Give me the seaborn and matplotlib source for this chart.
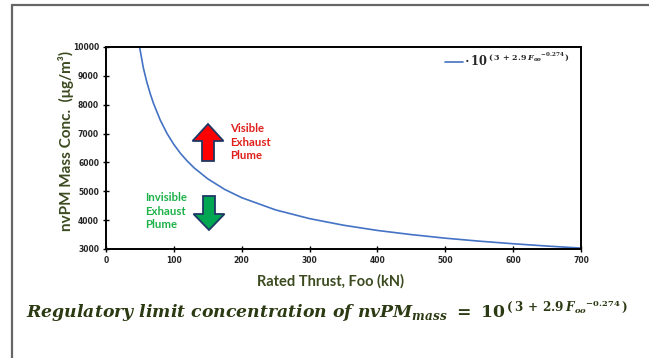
import matplotlib
matplotlib.use("Agg")
import matplotlib.pyplot as plt
import seaborn as sns
import pandas as pd
from matplotlib.patches import Polygon
from matplotlib.lines import Line2D

# ---- data ----
thrust_kn = [49.5, 55, 60, 65, 70, 80, 90, 100, 110, 120, 130, 150, 175, 200,
             250, 300, 350, 400, 450, 500, 550, 600, 650, 700]
conc_ugm3 = [10000, 9279, 8800, 8395, 8045, 7464, 7000, 6622, 6306, 6041, 5809,
             5431, 5064, 4778, 4354, 4053, 3824, 3643, 3499, 3375, 3272, 3182,
             3102, 3031]
x_ticks = [0, 100, 200, 300, 400, 500, 600, 700]
y_ticks = [3000, 4000, 5000, 6000, 7000, 8000, 9000, 10000]
series_label = r"$\cdot\,\mathbf{10}^{\,(\,3\,+\,2.9\,\mathit{F_{oo}}{}^{-0.274}\,)}$"
x_title = "Rated Thrust, Foo (kN)"
y_title = "nvPM Mass Conc.  (μg/m³)"
visible_text = "Visible\nExhaust\nPlume"
invisible_text = "Invisible\nExhaust\nPlume"
bottom_text = (r"$\mathit{Regulatory\ limit\ concentration\ of\ nvPM_{mass}}\ =\ "
               r"\mathbf{10}^{\,(\,3\,+\,2.9\,\mathit{F_{oo}}{}^{-0.274}\,)}$")

sns.set_theme(style="white")
plt.rcParams["font.family"] = ["Lato", "DejaVu Sans"]
plt.rcParams["mathtext.fontset"] = "custom"
plt.rcParams["mathtext.rm"] = "DejaVu Serif:bold"
plt.rcParams["mathtext.it"] = "DejaVu Serif:bold:italic"
plt.rcParams["mathtext.bf"] = "DejaVu Serif:bold"

W, H = 649, 358
fig = plt.figure(figsize=(W / 100, H / 100), dpi=100)
fig.patch.set_facecolor("white")
fig.patch.set_edgecolor("white")

def fx(px):
    return px / W

def fy(py):
    return 1 - py / H

ax_l, ax_r, ax_t, ax_b = 106, 581, 47, 249
ax = fig.add_axes([fx(ax_l), fy(ax_b), (ax_r - ax_l) / W, (ax_b - ax_t) / H])

df = pd.DataFrame({"thrust": thrust_kn, "conc": conc_ugm3, "series": series_label})
sns.lineplot(data=df, x="thrust", y="conc", hue="series", palette=["#4472C4"],
             linewidth=1.2, ax=ax, legend=True)

ax.set_xlim(0, 700)
ax.set_ylim(3000, 10000)
ax.set_xticks(x_ticks)
ax.set_yticks(y_ticks)
tick_font = dict(family=["Liberation Sans Narrow", "DejaVu Sans"], weight="bold", size=5.5)
ax.set_xticklabels([str(v) for v in x_ticks], **tick_font)
ax.set_yticklabels([str(v) for v in y_ticks], **tick_font)
ax.tick_params(axis="both", direction="inout", length=4, width=1, color="black",
               pad=3, bottom=True, left=True)
for s in ax.spines.values():
    s.set_color("black")
    s.set_linewidth(1.4)

label_color = "#3b4a1f"
ax.set_xlabel(x_title, fontsize=10.5, fontweight="bold", color=label_color)
ax.set_ylabel(y_title, fontsize=11, fontweight="bold", color=label_color)
ax.xaxis.set_label_coords(0.472, -0.158)
ax.yaxis.set_label_coords(-0.084, 0.535)
ax.xaxis.label.set_va("center")
ax.yaxis.label.set_va("center")

leg = ax.legend(loc="upper right", frameon=False, fontsize=8.3, handlelength=1.5,
                handletextpad=0.1, borderaxespad=0.05, borderpad=0.3,
                bbox_to_anchor=(0.985, 1.0), title=None)

# arrows (figure pixel positions)
def arrow_poly(cx, top, bottom, head_w, shaft_w, head_h, up=True):
    if up:
        pts = [(cx, top), (cx + head_w / 2, top + head_h), (cx + shaft_w / 2, top + head_h),
               (cx + shaft_w / 2, bottom), (cx - shaft_w / 2, bottom),
               (cx - shaft_w / 2, top + head_h), (cx - head_w / 2, top + head_h)]
    else:
        pts = [(cx, bottom), (cx + head_w / 2, bottom - head_h), (cx + shaft_w / 2, bottom - head_h),
               (cx + shaft_w / 2, top), (cx - shaft_w / 2, top),
               (cx - shaft_w / 2, bottom - head_h), (cx - head_w / 2, bottom - head_h)]
    return [(fx(x), fy(y)) for x, y in pts]

fig.patches.append(Polygon(arrow_poly(208, 124, 161, 31, 12, 17, up=True),
                           closed=True, facecolor="#ff0000", edgecolor="#1f3864",
                           linewidth=1.3, transform=fig.transFigure))
fig.patches.append(Polygon(arrow_poly(209, 196, 230, 31, 12, 16, up=False),
                           closed=True, facecolor="#00a651", edgecolor="#1f3864",
                           linewidth=1.3, transform=fig.transFigure))

fig.text(fx(230), fy(123), visible_text, color="#e0201c", fontsize=8.2,
         fontweight="bold", ha="left", va="top", linespacing=1.3)
fig.text(fx(145), fy(192), invisible_text, color="#1fb14a", fontsize=8.2,
         fontweight="bold", ha="left", va="top", linespacing=1.3)

# bottom equation
fig.text(fx(327), fy(318), bottom_text, color="#2b3a12", fontsize=12.4,
         ha="center", va="baseline")

# outer border (left and top edges only; the others fall outside the picture)
fig.lines.append(Line2D([fx(12), fx(12)], [fy(5), fy(360)], color="#666666",
                        linewidth=1.6, transform=fig.transFigure))
fig.lines.append(Line2D([fx(12), fx(660)], [fy(5), fy(5)], color="#666666",
                        linewidth=1.6, transform=fig.transFigure))

fig.savefig("out.png", dpi=100)
